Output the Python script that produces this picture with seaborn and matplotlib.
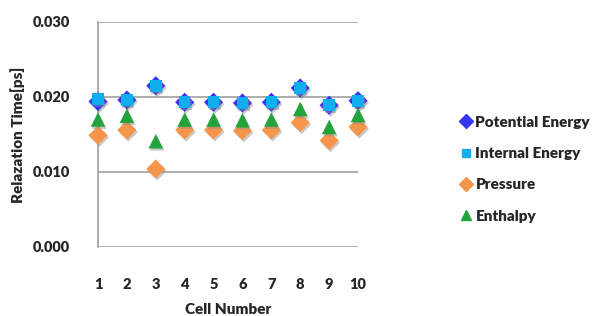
import matplotlib
matplotlib.use("Agg")
import matplotlib.pyplot as plt
import matplotlib.patheffects as pe
from matplotlib.lines import Line2D
import seaborn as sns
import pandas as pd

cells = [1, 2, 3, 4, 5, 6, 7, 8, 9, 10]
potential_energy = [0.0194, 0.0196, 0.0215, 0.0193, 0.0193, 0.0192, 0.0193, 0.0212, 0.0189, 0.0195]
internal_energy = [0.0197, 0.0196, 0.0215, 0.0193, 0.0193, 0.0192, 0.0193, 0.0212, 0.0189, 0.0195]
pressure = [0.0149, 0.0156, 0.0104, 0.0156, 0.0156, 0.0155, 0.0156, 0.0166, 0.0142, 0.0160]
enthalpy = [0.0170, 0.0175, 0.0141, 0.0170, 0.0170, 0.0169, 0.0170, 0.0184, 0.0160, 0.0176]
yticks = [0.000, 0.010, 0.020, 0.030]

series = [
    ("Potential Energy", potential_energy, "D", "#3535F5", 95),
    ("Internal Energy", internal_energy, "s", "#11AEEF", 70),
    ("Pressure", pressure, "D", "#F7964A", 95),
    ("Enthalpy", enthalpy, "^", "#22A33C", 110),
]

sns.set_style("white")
plt.rcParams["font.family"] = ["Lato", "DejaVu Sans"]
W = "heavy"

fig = plt.figure(figsize=(5.98, 3.16), dpi=100)
ax = fig.add_axes([0.1639, 0.2184, 0.4348, 0.712])

shadow = [pe.SimplePatchShadow(offset=(1, -1.5), shadow_rgbFace="#888888", alpha=0.45), pe.Normal()]
handles = []
for name, vals, mk, col, s in series:
    df = pd.DataFrame({"cell": cells, "value": vals})
    sns.scatterplot(data=df, x="cell", y="value", marker=mk, color=col, s=s,
                    linewidth=0, ax=ax, clip_on=False, zorder=3)
    ax.collections[-1].set_path_effects(shadow)
    handles.append(Line2D([], [], linestyle="none", marker=mk, color=col,
                          markersize=7 if mk != "s" else 5.5, label=name))

ax.set_xlim(1, 10)
ax.set_ylim(0, 0.030)
ax.set_yticks(yticks)
ax.set_yticklabels([f"{v:.3f}" for v in yticks])
ax.set_xticks(cells)
ax.set_xticklabels([str(c) for c in cells])
ax.grid(axis="y", color="#a0a0a0", linewidth=1.2)
ax.set_axisbelow(True)
for side in ["top", "right", "bottom"]:
    ax.spines[side].set_visible(False)
ax.spines["left"].set_color("#a0a0a0")
ax.spines["left"].set_linewidth(1.2)
ax.tick_params(axis="y", length=0, pad=20, labelsize=10.5)
ax.tick_params(axis="x", length=0, pad=22, labelsize=10.5)
for t in ax.get_xticklabels() + ax.get_yticklabels():
    t.set_fontweight(W)
ax.set_xlabel("")
ax.set_ylabel("")
fig.text(228 / 598, 1 - 309 / 316, "Cell Number", ha="center", va="center",
         fontsize=11, fontweight=W)
fig.text(18 / 598, 1 - 135 / 316, "Relazation Time[ps]", ha="center", va="center",
         rotation=90, fontsize=11, fontweight=W)

fig.legend(handles=handles, loc="upper left", bbox_to_anchor=(451 / 598, 1 - 108 / 316),
           frameon=False, prop={"weight": W, "size": 11}, borderpad=0,
           handletextpad=0.1, handlelength=1.0, labelspacing=1.2)

fig.savefig("out.png", dpi=100)
